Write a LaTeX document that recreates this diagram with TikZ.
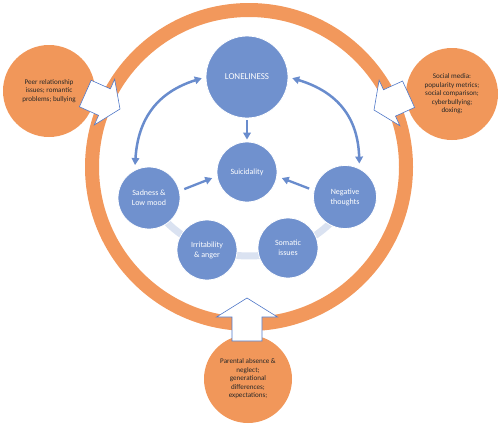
\documentclass[tikz,border=0pt]{standalone}
\usepackage{fontspec}
\setmainfont{Carlito}
\usetikzlibrary{arrows.meta}
\definecolor{ringor}{RGB}{242,152,92}
\definecolor{bubor}{RGB}{241,151,90}
\definecolor{bluefill}{RGB}{112,145,206}
\definecolor{bluearr}{RGB}{105,140,205}
\definecolor{bandcol}{RGB}{218,226,241}
\definecolor{blockedge}{RGB}{80,120,200}
\definecolor{txtdark}{RGB}{40,40,40}
\tikzset{
  ringstyle/.style={draw=ringor, line width=14pt},
  bubble/.style={circle, fill=bubor, draw=none, text=txtdark, align=center,
    font=\fontsize{7.1}{8.5}\selectfont, inner sep=0pt},
  bluenode/.style={circle, fill=bluefill, draw=white, line width=0.8pt, text=white,
    align=center, font=\fontsize{8}{10}\selectfont, inner sep=0pt},
  flow/.style={draw=bluearr, line width=2.3pt, -{Triangle[length=7pt,width=7.5pt]}},
  flowboth/.style={draw=bluearr, line width=2.5pt,
    {Triangle[length=7pt,width=7.5pt]}-{Triangle[length=7pt,width=7.5pt]}},
  bandstyle/.style={draw=bandcol, line width=7pt},
  blockarrow/.style={draw=blockedge, line width=0.6pt, fill=white, line join=miter}
}
\begin{document}
\begin{tikzpicture}[x=1pt,y=-1pt]
\useasboundingbox (0,0) rectangle (500,426);
% outer ring
\draw[ringstyle] (249,167) circle[radius=157];
% orange bubbles
\node[bubble, minimum size=92pt] (peer) at (49,91) {Peer relationship\\issues; romantic\\problems; bullying};
\node[bubble, minimum size=92pt] (social) at (452,94) {Social media:\\popularity metrics;\\social comparison;\\cyberbullying;\\doxing;};
\node[bubble, minimum size=88pt] (parent) at (248,379) {Parental absence \&\\neglect;\\generational\\differences;\\expectations;};
% block arrows
\begin{scope}[shift={(120,109)}, rotate=-24]
  \draw[blockarrow] (0,0) -- (-17,25) -- (-17,14.5) -- (-38,14.5) -- (-38,-14.5) -- (-17,-14.5) -- (-17,-25) -- cycle;
\end{scope}
\begin{scope}[shift={(374,110)}, rotate=204.5]
  \draw[blockarrow] (0,0) -- (-17,25) -- (-17,14.5) -- (-38,14.5) -- (-38,-14.5) -- (-17,-14.5) -- (-17,-25) -- cycle;
\end{scope}
\begin{scope}[shift={(247,298)}, rotate=90]
  \draw[blockarrow] (0,0) -- (-19,30.5) -- (-19,15) -- (-43,15) -- (-43,-15) -- (-19,-15) -- (-19,-30.5) -- cycle;
\end{scope}
% light band
\draw[bandstyle] (249,139) ++(150:117) arc[start angle=150, end angle=30, radius=117];
% blue nodes
\node[bluenode, minimum size=82pt, font=\fontsize{9}{11}\selectfont] (lone) at (247,77) {LONELINESS};
\node[bluenode, minimum size=60pt] (suic) at (247,172) {Suicidality};
\node[bluenode, minimum size=62pt] (sad) at (149,198) {Sadness \&\\Low mood};
\node[bluenode, minimum size=63pt] (neg) at (345,197) {Negative\\thoughts};
\node[bluenode, minimum size=60pt] (irr) at (207,250) {Irritability\\\& anger};
\node[bluenode, minimum size=60pt] (som) at (288,248) {Somatic\\issues};
% arrows
\draw[flow, shorten <=2pt, shorten >=2pt] (lone.south) -- (suic.north);
\draw[flow, shorten <=5pt, shorten >=5pt] (sad.13) -- (suic.188);
\draw[flow, shorten <=5pt, shorten >=5pt] (neg.168) -- (suic.352);
\draw[flowboth, shorten <=4pt, shorten >=5pt] (lone.180) .. controls (158,92) and (138,118) .. (sad.117);
\draw[flowboth, shorten <=4pt, shorten >=5pt] (lone.0) .. controls (338,92) and (358,118) .. (neg.63);
\end{tikzpicture}
\end{document}
